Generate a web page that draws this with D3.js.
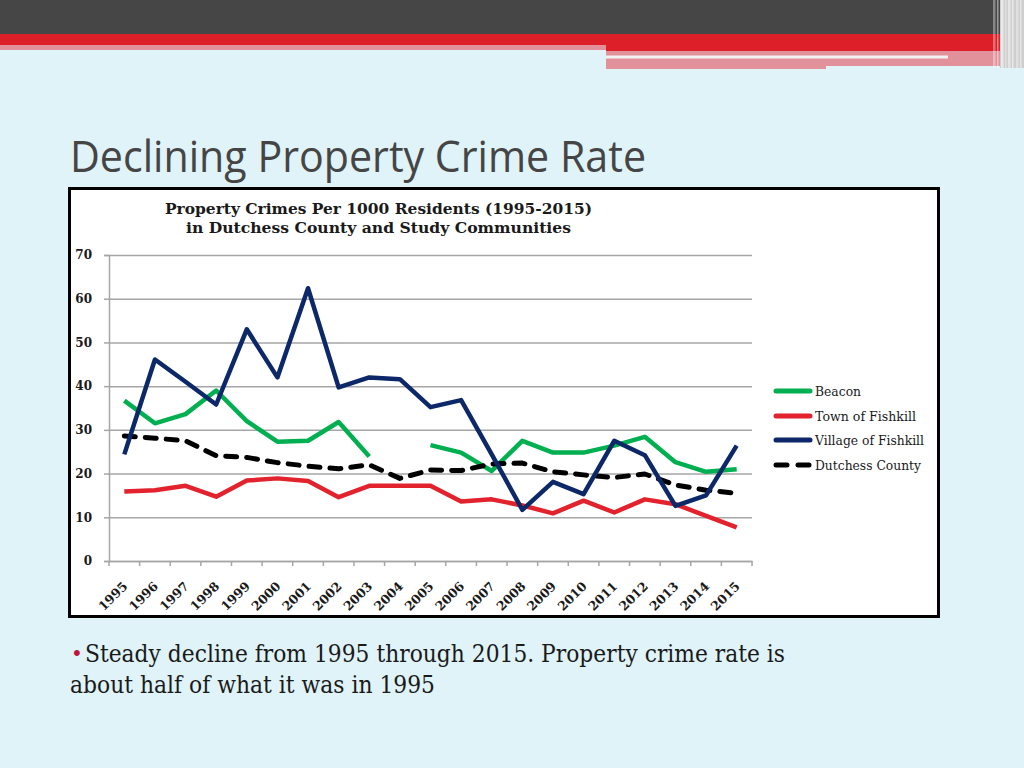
<!DOCTYPE html>
<html><head><meta charset="utf-8">
<script src="https://cdn.jsdelivr.net/npm/d3@7"></script>
<style>body{margin:0;background:#dff3f8;overflow:hidden} svg{display:block}</style>
</head><body><svg id="c" width="1024" height="768"></svg>
<script>
// ---- data ----
const years = ["1995","1996","1997","1998","1999","2000","2001","2002","2003","2004","2005","2006","2007","2008","2009","2010","2011","2012","2013","2014","2015"];
const beacon = [36.7,31.5,33.6,39.0,32.0,27.3,27.5,31.8,23.9,null,26.5,24.8,20.6,27.5,24.8,24.8,26.4,28.4,22.6,20.4,21.0];
const townFishkill = [15.9,16.2,17.2,14.7,18.4,18.9,18.3,14.6,17.2,17.2,17.2,13.6,14.1,12.7,10.9,13.8,11.1,14.1,13.0,10.3,7.7];
const villageFishkill = [24.4,46.1,41.0,35.8,53.0,42.0,62.4,39.7,42.0,41.6,35.2,36.8,24.4,11.7,18.1,15.3,27.5,24.2,12.6,15.0,26.4];
const dutchess = [28.6,28.1,27.5,24.1,23.7,22.5,21.7,21.1,22.0,18.9,20.8,20.7,22.2,22.4,20.4,19.7,19.1,19.9,17.4,16.2,15.5];
const seriesNames = ["Beacon","Town of Fishkill","Village of Fishkill","Dutchess County"];
const yTicks = [0,10,20,30,40,50,60,70];

const svg = d3.select("#c");

// ---- slide decoration ----
svg.append("rect").attr("x",0).attr("y",0).attr("width",1024).attr("height",768).attr("fill","#dff3f8");
svg.append("rect").attr("x",0).attr("y",0).attr("width",1024).attr("height",34).attr("fill","#464646");
svg.append("rect").attr("x",0).attr("y",34).attr("width",1000).attr("height",11).attr("fill","#dc1f28");
svg.append("rect").attr("x",0).attr("y",45).attr("width",606).attr("height",5).attr("fill","#e2919b");
svg.append("rect").attr("x",606).attr("y",45).attr("width",394).attr("height",6).attr("fill","#dc1f28");
svg.append("rect").attr("x",606).attr("y",51).attr("width",394).attr("height",15).attr("fill","#e2919b");
svg.append("rect").attr("x",606).attr("y",66).attr("width",220).attr("height",3).attr("fill","#e2919b");
svg.append("rect").attr("x",606).attr("y",55.5).attr("width",342).attr("height",3).attr("fill","#f4f1f2");
svg.append("rect").attr("x",1000).attr("y",0).attr("width",24).attr("height",68).attr("fill","#cfcfcf");
[993,997,1001,1005,1008,1012,1016,1020].forEach((xx,i)=>{
  svg.append("rect").attr("x",xx).attr("y",0).attr("width",i%2?1.5:2.5).attr("height",68)
    .attr("fill","#ffffff").attr("opacity",0.35+0.1*(i%3));
});

// title
svg.append("text").attr("x",70).attr("y",172)
  .attr("font-family","'Open Sans', 'DejaVu Sans', sans-serif").attr("font-size",43)
  .attr("fill","#454545").text("Declining Property Crime Rate")
  .attr("textLength",576).attr("lengthAdjust","spacingAndGlyphs");

// chart box
svg.append("rect").attr("x",69.5).attr("y",188.5).attr("width",869).attr("height",428)
  .attr("fill","#ffffff").attr("stroke","#000").attr("stroke-width",3);

const serif = "'DejaVu Serif', 'Liberation Serif', serif";

svg.append("text").attr("x",165).attr("y",214)
  .attr("font-family",serif).attr("font-weight","bold").attr("font-size",15).attr("fill","#1a1a1a")
  .text("Property Crimes Per 1000 Residents (1995-2015)")
  .attr("textLength",427).attr("lengthAdjust","spacingAndGlyphs");
svg.append("text").attr("x",186).attr("y",233)
  .attr("font-family",serif).attr("font-weight","bold").attr("font-size",15).attr("fill","#1a1a1a")
  .text("in Dutchess County and Study Communities")
  .attr("textLength",385).attr("lengthAdjust","spacingAndGlyphs");

// ---- scales ----
const x = d3.scaleBand().domain(years).range([109,752]);
const y = d3.scaleLinear().domain([0,70]).range([561,255]);
const cx = d => x(d) + x.bandwidth()/2;

// gridlines
const grid = svg.append("g").attr("transform","translate(109,0)")
  .call(d3.axisLeft(y).tickValues(yTicks).tickSize(-643).tickFormat(""));
grid.select(".domain").remove();
grid.selectAll("line").attr("stroke","#a6a6a6").attr("stroke-width",1.5);

// y axis
const ya = svg.append("g").attr("transform","translate(109,0)")
  .call(d3.axisLeft(y).tickValues(yTicks).tickSize(5).tickPadding(12));
ya.select(".domain").attr("stroke","#a6a6a6").attr("stroke-width",1.5);
ya.selectAll("line").attr("stroke","#a6a6a6").attr("stroke-width",1.5);
ya.selectAll("text").attr("font-family",serif).attr("font-weight","bold").attr("font-size",12).attr("fill","#1a1a1a");

// x axis
const xa = svg.append("g").attr("transform","translate(0,561)")
  .call(d3.axisBottom(x).tickSize(0).tickPadding(0));
xa.select(".domain").attr("stroke","#a6a6a6").attr("stroke-width",1.5);
xa.selectAll(".tick text")
  .attr("font-family",serif).attr("font-weight","bold").attr("font-size",12.5).attr("fill","#1a1a1a")
  .attr("text-anchor","end").attr("dy",0)
  .attr("transform","translate(4,26) rotate(-45)");
const bounds = years.map(d=>x(d)).concat([x(years[years.length-1])+x.bandwidth()]);
svg.append("g").selectAll("line").data(bounds).join("line")
  .attr("x1",d=>d).attr("x2",d=>d).attr("y1",561).attr("y2",566)
  .attr("stroke","#a6a6a6").attr("stroke-width",1.5);

// ---- lines ----
const colors = ["#00b050","#e2232d","#0c2869","#000000"];
const allSeries = [beacon, townFishkill, villageFishkill, dutchess];
const line = d3.line().defined(d=>d.v!==null).x(d=>cx(d.yr)).y(d=>y(d.v));
const drawOrder = [1,0,3,2];
drawOrder.forEach(i=>{
  const data = years.map((yr,j)=>({yr, v: allSeries[i][j]}));
  const p = svg.append("path").datum(data).attr("d",line).attr("fill","none")
    .attr("stroke",colors[i]).attr("stroke-width",i===3?5:4.5).attr("stroke-linejoin","round");
  if(i===3) p.attr("stroke-dasharray","11,10").attr("stroke-linecap","round");
});

// ---- legend ----
const lg = svg.append("g");
const ly = [391,416,440,465];
const lw = [46,101,109,106];
seriesNames.forEach((n,i)=>{
  const l = lg.append("line").attr("x1",776).attr("x2",810).attr("y1",ly[i]).attr("y2",ly[i])
    .attr("stroke",colors[i]).attr("stroke-width",5).attr("stroke-linecap","round");
  if(i===3) l.attr("stroke-dasharray","11,11");
  lg.append("text").attr("x",815).attr("y",ly[i]+4.5)
    .attr("font-family",serif).attr("font-size",13.5).attr("fill","#1a1a1a").text(n)
    .attr("textLength",lw[i]).attr("lengthAdjust","spacingAndGlyphs");
});

// ---- bullet text ----
svg.append("text").attr("x",71).attr("y",661).attr("font-family",serif).attr("font-size",20)
  .attr("fill","#c0143c").text("•");
svg.append("text").attr("x",85).attr("y",662).attr("font-family",serif).attr("font-size",24)
  .attr("fill","#1a1a1a").text("Steady decline from 1995 through 2015. Property crime rate is")
  .attr("textLength",700).attr("lengthAdjust","spacingAndGlyphs");
svg.append("text").attr("x",70).attr("y",693).attr("font-family",serif).attr("font-size",24)
  .attr("fill","#1a1a1a").text("about half of what it was in 1995")
  .attr("textLength",365).attr("lengthAdjust","spacingAndGlyphs");
</script></body></html>
